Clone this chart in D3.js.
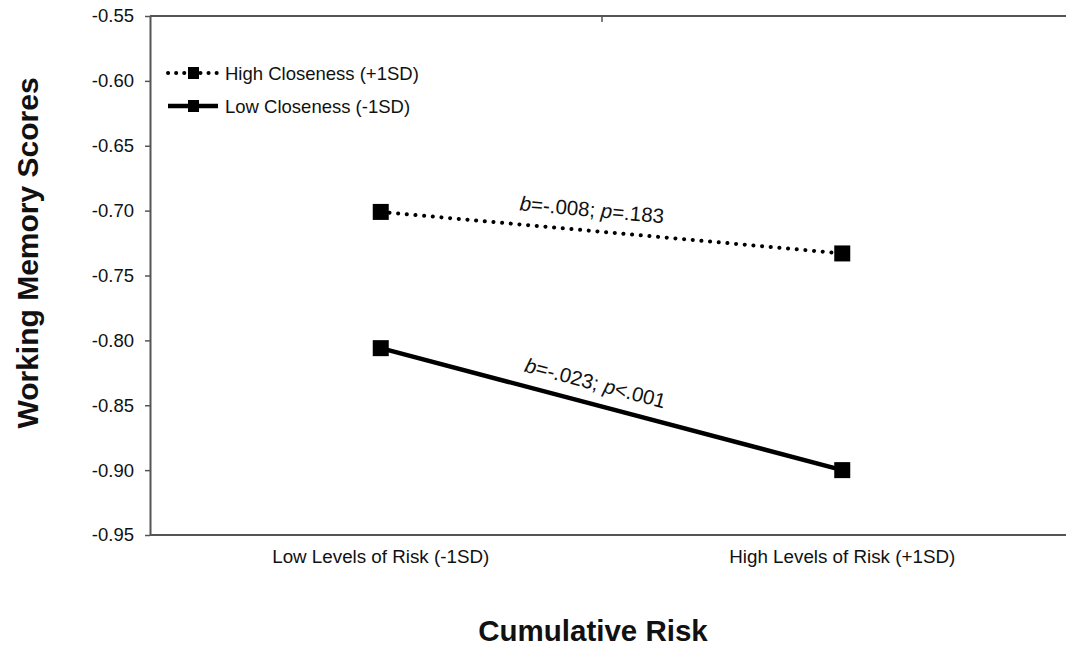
<!DOCTYPE html>
<html><head><meta charset="utf-8">
<script src="https://cdn.jsdelivr.net/npm/d3@7"></script>
<style>
html,body{margin:0;padding:0;background:#fff;}
text{font-family:"Liberation Sans",Arial,sans-serif;}
</style></head>
<body>
<svg id="chart" width="1066" height="647"></svg>
<script>
const categories = ["Low Levels of Risk (-1SD)", "High Levels of Risk (+1SD)"];
const seriesNames = ["High Closeness (+1SD)", "Low Closeness (-1SD)"];
const highCloseness = [-0.701, -0.733];
const lowCloseness = [-0.806, -0.900];
const annotations = ["b=-.008; p=.183", "b=-.023; p<.001"];
const yTicks = [-0.55, -0.60, -0.65, -0.70, -0.75, -0.80, -0.85, -0.90, -0.95];

(function () {
const svg = d3.select("#chart");
const mLeft = 150, mRight = 1073, mTop = 16, mBottom = 535;
const x = d3.scalePoint().domain(categories).range([mLeft, mRight]).padding(0.5);
const y = d3.scaleLinear().domain([-0.95, -0.55]).range([mBottom, mTop]);
const axisColor = "#555";
const fmt = d => d3.format(".2f")(d).replace("\u2212", "-");

// Y axis
const yAxis = svg.append("g").attr("transform", `translate(${mLeft},0)`)
  .call(d3.axisLeft(y).tickValues(yTicks).tickFormat(fmt).tickSize(5).tickSizeOuter(0));
yAxis.select(".domain").attr("stroke", axisColor).attr("stroke-width", 2);
yAxis.selectAll(".tick line").attr("stroke", axisColor).attr("stroke-width", 1.5);
yAxis.selectAll(".tick text").attr("font-size", 18.5).attr("fill", "#111").attr("x", -16)
  .attr("font-family", "Liberation Sans, Arial, sans-serif");

// bottom axis line
svg.append("line").attr("x1", mLeft).attr("x2", 1066).attr("y1", mBottom).attr("y2", mBottom)
  .attr("stroke", axisColor).attr("stroke-width", 2);
// top border
svg.append("line").attr("x1", mLeft).attr("x2", 1066).attr("y1", mTop).attr("y2", mTop)
  .attr("stroke", axisColor).attr("stroke-width", 2);
svg.append("line").attr("x1", 602).attr("x2", 602).attr("y1", mTop).attr("y2", mTop + 6)
  .attr("stroke", axisColor).attr("stroke-width", 1.5);

// category labels
svg.selectAll(".cat").data(categories).join("text").attr("class", "cat")
  .attr("x", d => x(d)).attr("y", 563).attr("text-anchor", "middle")
  .attr("font-size", 18.8).attr("fill", "#111").text(d => d);

// axis titles
svg.append("text").attr("transform", "translate(38,253) rotate(-90)")
  .attr("text-anchor", "middle").attr("font-size", 30).attr("font-weight", "bold")
  .attr("fill", "#111").text("Working Memory Scores");
svg.append("text").attr("x", 593).attr("y", 641).attr("text-anchor", "middle")
  .attr("font-size", 29.5).attr("font-weight", "bold").attr("fill", "#111").text("Cumulative Risk");

// lines
const line = d3.line().x((d, i) => x(categories[i])).y(d => y(d));
const series = [
  {name: seriesNames[0], vals: highCloseness, dash: "0.1 8.6", width: 4},
  {name: seriesNames[1], vals: lowCloseness, dash: null, width: 4.5}
];
series.forEach(s => {
  svg.append("path").datum(s.vals).attr("d", line).attr("fill", "none")
    .attr("stroke", "#000").attr("stroke-width", s.width)
    .attr("stroke-linecap", s.dash ? "round" : "butt")
    .attr("stroke-dasharray", s.dash);
  svg.selectAll(null).data(s.vals).join("rect")
    .attr("x", (d, i) => x(categories[i]) - 8).attr("y", d => y(d) - 8)
    .attr("width", 16).attr("height", 16).attr("fill", "#000");
});

// annotations
series.forEach((s, k) => {
  const x0 = x(categories[0]), x1 = x(categories[1]);
  const y0 = y(s.vals[0]), y1 = y(s.vals[1]);
  const ang = Math.atan2(y1 - y0, x1 - x0);
  const cx = 590;
  const cy = y0 + (cx - x0) * (y1 - y0) / (x1 - x0);
  const off = 14;
  const tx = cx + off * Math.sin(ang), ty = cy - off * Math.cos(ang);
  const parts = annotations[k].split(/(b|p)(?==|<)/).filter(p => p !== "");
  const t = svg.append("text")
    .attr("transform", `translate(${tx},${ty}) rotate(${ang * 180 / Math.PI})`)
    .attr("text-anchor", "middle").attr("font-size", 20.5).attr("fill", "#111");
  parts.forEach(p => {
    t.append("tspan").attr("font-style", (p === "b" || p === "p") ? "italic" : "normal").text(p);
  });
});

// legend
const legend = [
  {name: seriesNames[0], dash: "0.1 8", width: 4, yy: 73},
  {name: seriesNames[1], dash: null, width: 4.5, yy: 106}
];
legend.forEach(l => {
  svg.append("line").attr("x1", 168).attr("x2", 218).attr("y1", l.yy).attr("y2", l.yy)
    .attr("stroke", "#000").attr("stroke-width", l.width)
    .attr("stroke-linecap", l.dash ? "round" : "butt").attr("stroke-dasharray", l.dash);
  svg.append("rect").attr("x", 188).attr("y", l.yy - 6).attr("width", 11).attr("height", 12).attr("fill", "#000");
  svg.append("text").attr("x", 225).attr("y", l.yy + 7).attr("font-size", 18.5).attr("fill", "#111").text(l.name);
});
})();
</script>
</body></html>
